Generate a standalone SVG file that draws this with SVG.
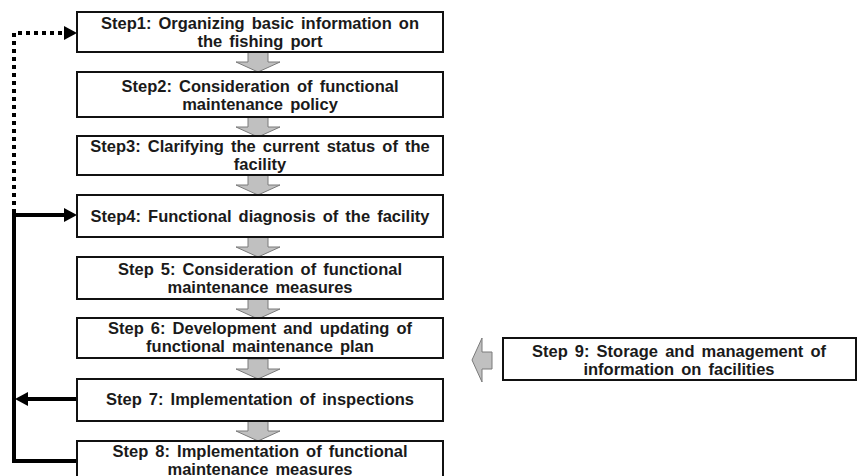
<svg xmlns="http://www.w3.org/2000/svg" width="858" height="476" viewBox="0 0 858 476">
<style>
.box{fill:#fff;stroke:#111;stroke-width:2}
.t{font-family:"Liberation Sans",Arial,sans-serif;font-weight:bold;font-size:16.5px;fill:#1a1a1a;text-anchor:middle;word-spacing:2.5px}
.ba{fill:#c0c0c0;stroke:#7a7a7a;stroke-width:1}
.solid{fill:none;stroke:#000;stroke-width:4}
.dot{fill:none;stroke:#000;stroke-width:4;stroke-dasharray:4 4}
</style>
<defs>
<path id="down" d="M-10,0 H10 V10 H22 L0,20 L-22,10 H-10 Z"/>
</defs>
<rect width="858" height="476" fill="#fff"/>
<g id="connectors">
<use href="#down" class="ba" x="258" y="52"/>
<use href="#down" class="ba" x="258" y="117"/>
<use href="#down" class="ba" x="258" y="175"/>
<use href="#down" class="ba" x="258" y="237"/>
<use href="#down" class="ba" x="258" y="299"/>
<use href="#down" class="ba" x="258" y="359"/>
<use href="#down" class="ba" x="258" y="421"/>
<path class="ba" d="M472,360 L482,338 V352 H492 V369 H482 V382 Z"/>
<path class="dot" d="M14,213 V33 H64"/>
<path d="M64,26 L77,33 L64,40 Z" fill="#000"/>
<path class="solid" d="M14,215 H64"/>
<path d="M64,208 L77,215 L64,222 Z" fill="#000"/>
<path class="solid" d="M14,213 V461 H77"/>
<path class="solid" d="M77,399 H28"/>
<path d="M28,392 L15,399 L28,406 Z" fill="#000"/>
</g>
<g id="step1"><rect class="box" x="77" y="12" width="366" height="40"/>
<text class="t" x="260" y="29">Step1: Organizing basic information on</text>
<text class="t" x="260" y="47">the fishing port</text></g>
<g id="step2"><rect class="box" x="77" y="72" width="366" height="45"/>
<text class="t" x="260" y="92">Step2: Consideration of functional</text>
<text class="t" x="260" y="110">maintenance policy</text></g>
<g id="step3"><rect class="box" x="77" y="136" width="366" height="39"/>
<text class="t" x="260" y="152">Step3: Clarifying the current status of the</text>
<text class="t" x="260" y="170">facility</text></g>
<g id="step4"><rect class="box" x="77" y="195" width="366" height="42"/>
<text class="t" x="260" y="222">Step4: Functional diagnosis of the facility</text></g>
<g id="step5"><rect class="box" x="77" y="257" width="366" height="42"/>
<text class="t" x="260" y="275">Step 5: Consideration of functional</text>
<text class="t" x="260" y="293">maintenance measures</text></g>
<g id="step6"><rect class="box" x="77" y="318" width="366" height="40"/>
<text class="t" x="260" y="334">Step 6: Development and updating of</text>
<text class="t" x="260" y="352">functional maintenance plan</text></g>
<g id="step7"><rect class="box" x="77" y="379" width="366" height="42"/>
<text class="t" x="260" y="405">Step 7: Implementation of inspections</text></g>
<g id="step8"><rect class="box" x="77" y="441" width="366" height="45"/>
<text class="t" x="260" y="457">Step 8: Implementation of functional</text>
<text class="t" x="260" y="475">maintenance measures</text></g>
<g id="step9"><rect class="box" x="503" y="338" width="353" height="42"/>
<text class="t" x="679" y="357">Step 9: Storage and management of</text>
<text class="t" x="679" y="375">information on facilities</text></g>
</svg>
